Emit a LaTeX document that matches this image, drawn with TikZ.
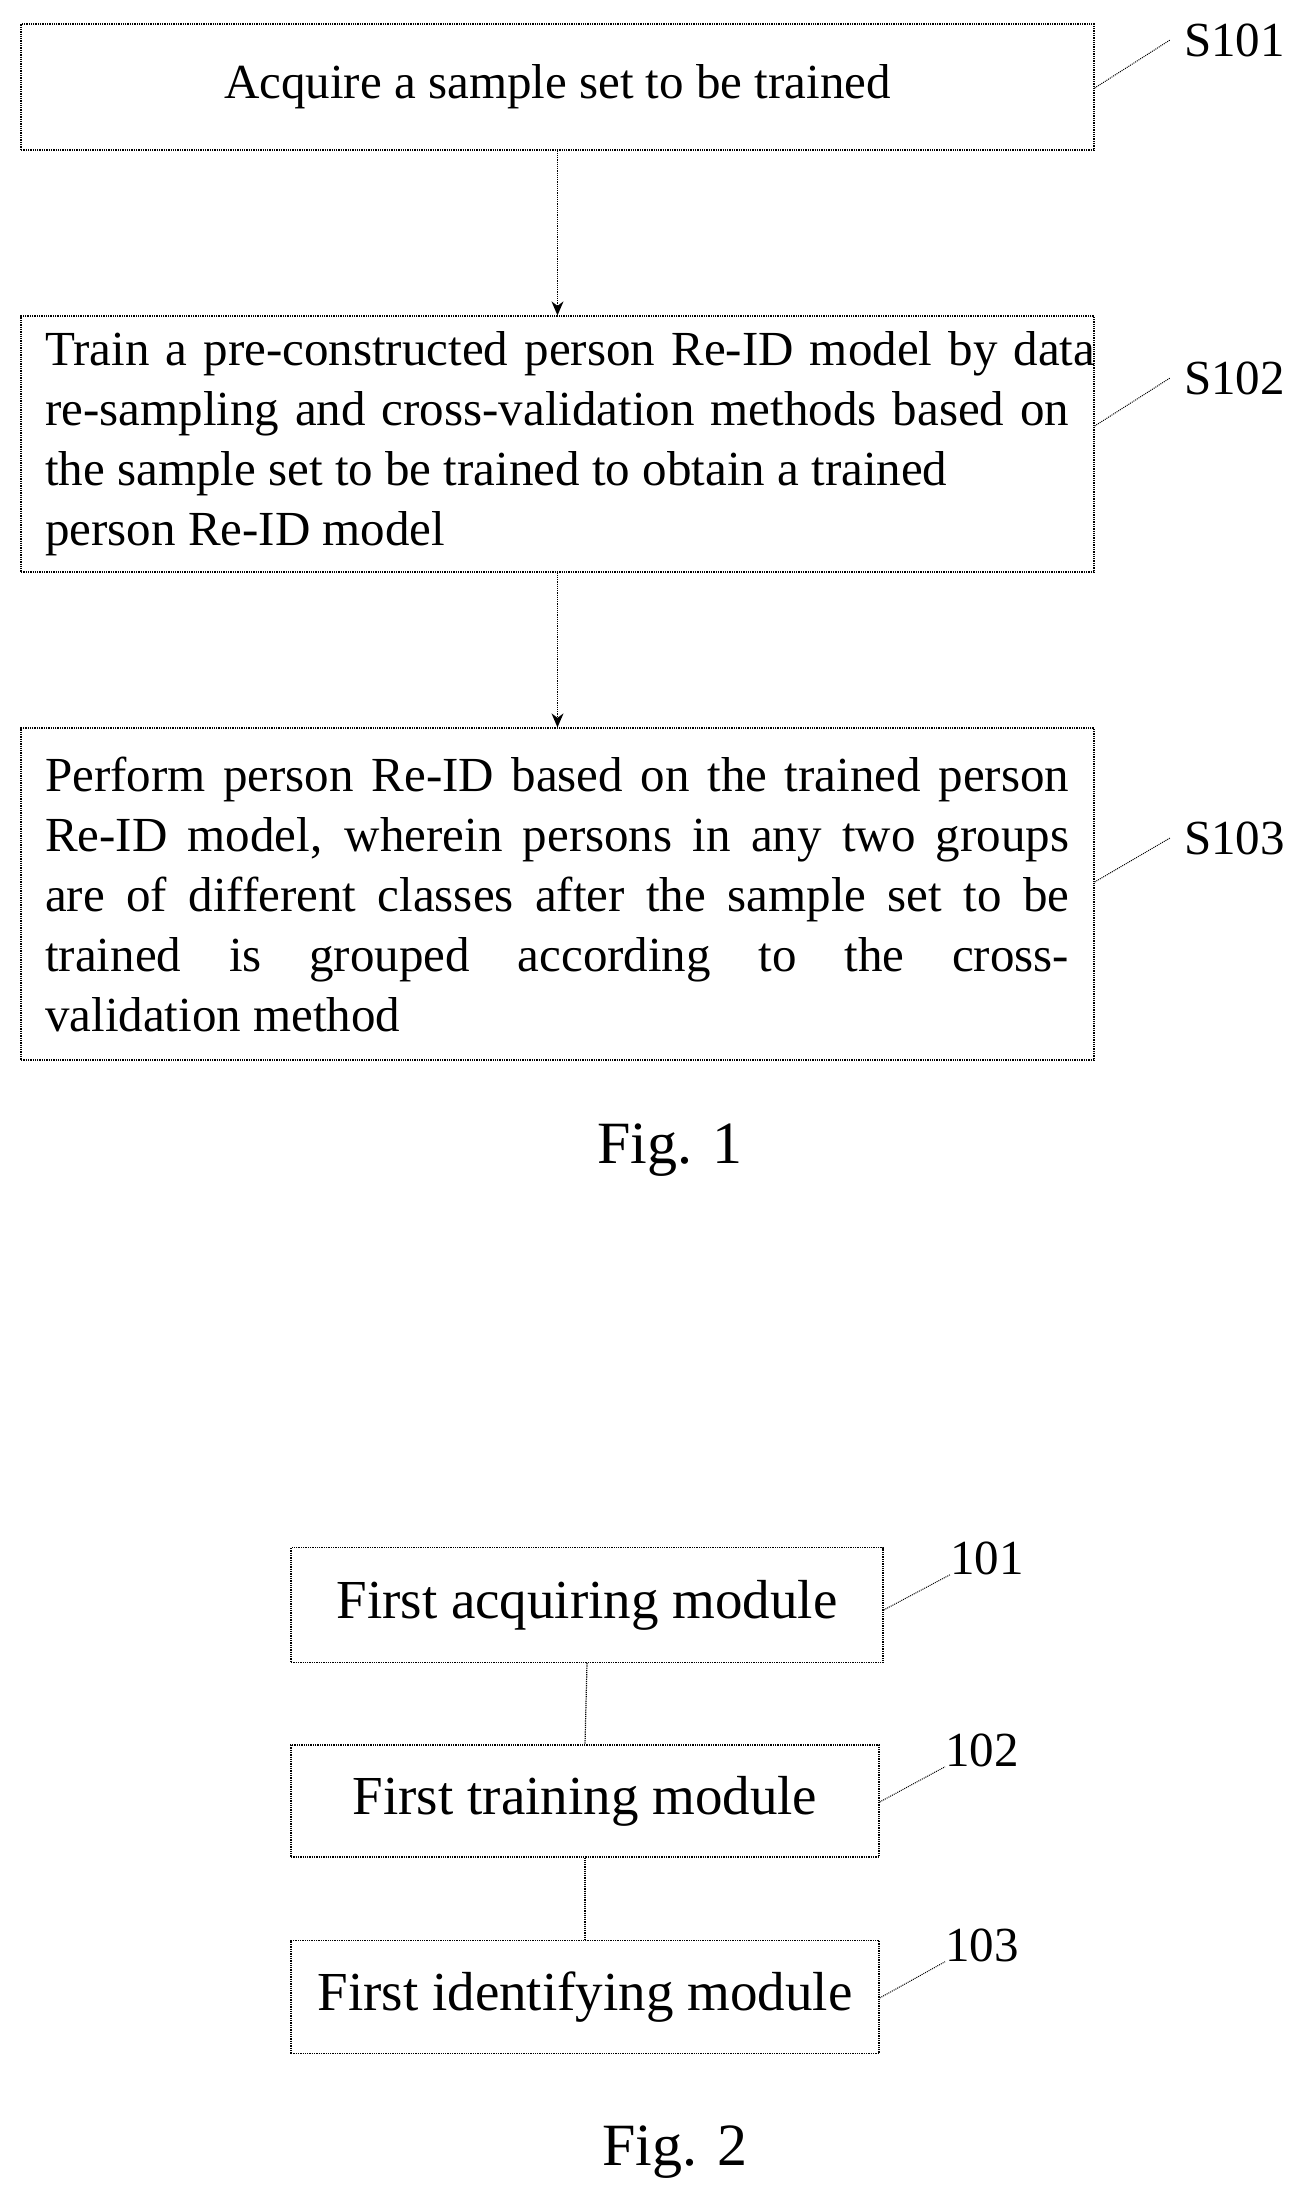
\documentclass[tikz,border=0pt]{standalone}
\usepackage{fontspec}
\setmainfont{Liberation Serif}
\usetikzlibrary{arrows.meta}
\begin{document}
\begin{tikzpicture}[x=1pt,y=-1pt,
  box/.style={draw, densely dotted, line width=1.3pt, inner sep=0pt},
  conn/.style={densely dotted, line width=1.2pt},
  lead/.style={densely dotted, line width=1pt},
  lbl/.style={font=\fontsize{49}{56}\selectfont, inner sep=0pt},
  body/.style={font=\fontsize{49}{60}\selectfont, inner sep=0pt, align=left},
  mod/.style={box, font=\fontsize{55}{60}\selectfont}]
\useasboundingbox (0,0) rectangle (1308,2210);
% Fig 1 boxes
\node[box, minimum width=1073pt, minimum height=126pt] (b1) at (557.5,87) {};
\node[body] (t1) at (b1.center) {Acquire a sample set to be trained};
\node[box, minimum width=1073pt, minimum height=256pt] (b2) at (557.5,444) {};
\node[body, anchor=west] (t2) at (45,444) {\makebox[1050pt][s]{Train a pre-constructed person Re-ID model by data}\\
\makebox[1024pt][s]{re-sampling and cross-validation methods based on}\\
the sample set to be trained to obtain a trained\\
person Re-ID model};
\node[box, minimum width=1073pt, minimum height=332pt] (b3) at (557.5,894) {};
\node[body, anchor=west] (t3) at (45,894) {\makebox[1024pt][s]{Perform person Re-ID based on the trained person}\\
\makebox[1024pt][s]{Re-ID model, wherein persons in any two groups}\\
\makebox[1024pt][s]{are of different classes after the sample set to be}\\
\makebox[1024pt][s]{trained is grouped according to the cross-}\\
validation method};
\draw[conn, -{Stealth[length=14pt,width=12pt]}] (b1.south) -- (b2.north);
\draw[conn, -{Stealth[length=14pt,width=12pt]}] (b2.south) -- (b3.north);
\node[lbl, anchor=west] (s1) at (1184,40) {S101};
\node[lbl, anchor=west] (s2) at (1184,378) {S102};
\node[lbl, anchor=west] (s3) at (1184,838) {S103};
\draw[lead] (b1.east |- 0,88) -- ([xshift=-14pt]s1.west);
\draw[lead] (b2.east |- 0,426) -- ([xshift=-14pt]s2.west);
\draw[lead] (b3.east |- 0,882) -- ([xshift=-14pt]s3.west);
\node[font=\fontsize{60}{66}\selectfont] (f1) at (670,1150) {Fig. 1};
% Fig 2
\node[mod, minimum width=592pt, minimum height=115pt] (m1) at (587,1605) {First acquiring module};
\node[mod, minimum width=588pt, minimum height=112pt] (m2) at (585,1801) {First training module};
\node[mod, minimum width=588pt, minimum height=113pt] (m3) at (585,1997) {First identifying module};
\draw[conn] (m1.south) -- (m2.north);
\draw[conn] (m2.south) -- (m3.north);
\node[lbl, anchor=west] (n1) at (950,1558) {101};
\node[lbl, anchor=west] (n2) at (945,1750) {102};
\node[lbl, anchor=west] (n3) at (945,1945) {103};
\draw[lead] (m1.east |- 0,1610) -- (n1.south west);
\draw[lead] (m2.east |- 0,1802) -- (n2.south west);
\draw[lead] (m3.east |- 0,1998) -- (n3.south west);
\node[font=\fontsize{60}{66}\selectfont] (f2) at (675,2152) {Fig. 2};
\end{tikzpicture}
\end{document}
